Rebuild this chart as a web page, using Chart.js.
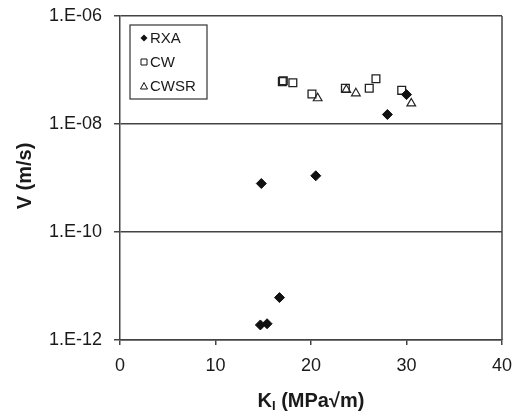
<!DOCTYPE html>
<html>
<head>
<meta charset="utf-8">
<script src="https://cdn.jsdelivr.net/npm/chart.js@4.4.1/dist/chart.umd.min.js"></script>
<style>
  html, body { margin: 0; padding: 0; background: #fff; }
  #wrap { width: 519px; height: 416px; }
</style>
</head>
<body>
<div id="wrap"><canvas id="crackChart" width="519" height="416"></canvas></div>
<script>
// K_I (MPa sqrt m) and crack velocity V (m/s)
const rxaK = [14.7, 15.4, 16.7, 14.8, 20.5, 28.0, 30.0];
const rxaV = [1.9e-12, 2.0e-12, 6.1e-12, 7.9e-10, 1.1e-9, 1.5e-8, 3.5e-8];

const cwK = [17.0, 17.1, 18.1, 20.1, 23.6, 26.1, 26.8, 29.5];
const cwV = [6.1e-8, 6.3e-8, 5.8e-8, 3.6e-8, 4.6e-8, 4.6e-8, 6.9e-8, 4.2e-8];

const cwsrK = [20.7, 23.7, 24.7, 30.5];
const cwsrV = [3.0e-8, 4.3e-8, 3.7e-8, 2.4e-8];

const xTicks = [0, 10, 20, 30, 40];
const yTicks = [1e-12, 1e-10, 1e-8, 1e-6];
const yTickLabels = ["1.E-12", "1.E-10", "1.E-08", "1.E-06"];

const lineColor = "#444444";
const textColor = "#1a1a1a";

function toPoints(xs, ys) {
    return xs.map((x, i) => ({ x: x, y: ys[i] }));
}

// box around the plot, axis titles and the legend
const decorations = {
    id: "decorations",
    afterDraw(chart) {
        const ctx = chart.ctx;
        const area = chart.chartArea;
        ctx.save();

        // right edge of the plot box
        ctx.strokeStyle = lineColor;
        ctx.lineWidth = 1.5;
        ctx.beginPath();
        ctx.moveTo(area.right, area.top);
        ctx.lineTo(area.right, area.bottom);
        ctx.stroke();

        // y title
        ctx.fillStyle = textColor;
        ctx.font = "bold 20px 'Liberation Sans', Arial, sans-serif";
        ctx.textAlign = "center";
        ctx.textBaseline = "middle";
        ctx.translate(25, 176);
        ctx.rotate(-Math.PI / 2);
        ctx.fillText("V (m/s)", 0, 0);
        ctx.setTransform(1, 0, 0, 1, 0, 0);

        // x title with subscript I
        const main = "K";
        const sub = "I";
        const rest = " (MPa\u221Am)";
        ctx.textBaseline = "alphabetic";
        ctx.textAlign = "left";
        ctx.font = "bold 20px 'Liberation Sans', Arial, sans-serif";
        const wMain = ctx.measureText(main).width;
        const wRest = ctx.measureText(rest).width;
        ctx.font = "bold 13px 'Liberation Sans', Arial, sans-serif";
        const wSub = ctx.measureText(sub).width;
        let x = (area.left + area.right) / 2 - (wMain + wSub + wRest) / 2;
        const base = 407;
        ctx.font = "bold 20px 'Liberation Sans', Arial, sans-serif";
        ctx.fillText(main, x, base);
        x += wMain;
        ctx.font = "bold 13px 'Liberation Sans', Arial, sans-serif";
        ctx.fillText(sub, x, base + 3);
        x += wSub;
        ctx.font = "bold 20px 'Liberation Sans', Arial, sans-serif";
        ctx.fillText(rest, x, base);

        // legend box
        const lx = 130, ly = 25, lw = 77, lh = 74;
        ctx.fillStyle = "#ffffff";
        ctx.fillRect(lx, ly, lw, lh);
        ctx.strokeStyle = "#333333";
        ctx.lineWidth = 1.2;
        ctx.strokeRect(lx, ly, lw, lh);

        ctx.font = "15px 'Liberation Sans', Arial, sans-serif";
        ctx.textBaseline = "middle";
        const rows = [38, 62, 86];
        chart.data.datasets.forEach((ds, i) => {
            const cy = rows[i];
            const cx = 144;
            ctx.beginPath();
            ctx.lineWidth = 1;
            ctx.strokeStyle = "#111111";
            if (ds.pointStyle === "rectRot") {
                ctx.moveTo(cx, cy - 3.5);
                ctx.lineTo(cx + 3.5, cy);
                ctx.lineTo(cx, cy + 3.5);
                ctx.lineTo(cx - 3.5, cy);
                ctx.closePath();
                ctx.fillStyle = "#111111";
                ctx.fill();
            } else if (ds.pointStyle === "rect") {
                ctx.rect(cx - 3, cy - 3, 6, 6);
                ctx.stroke();
            } else {
                ctx.moveTo(cx, cy - 3.5);
                ctx.lineTo(cx + 3.5, cy + 3);
                ctx.lineTo(cx - 3.5, cy + 3);
                ctx.closePath();
                ctx.stroke();
            }
            ctx.fillStyle = textColor;
            ctx.textAlign = "left";
            ctx.fillText(ds.label, 150, cy + 1);
        });

        ctx.restore();
    }
};

const ctx = document.getElementById("crackChart").getContext("2d");
const chart = new Chart(ctx, {
    type: "scatter",
    data: {
        datasets: [
            {
                label: "RXA",
                data: toPoints(rxaK, rxaV),
                pointStyle: "rectRot",
                pointRadius: 5,
                backgroundColor: "#111111",
                borderColor: "#111111",
                borderWidth: 1
            },
            {
                label: "CW",
                data: toPoints(cwK, cwV),
                pointStyle: "rect",
                pointRadius: 5.5,
                backgroundColor: "rgba(255,255,255,0)",
                borderColor: "#222222",
                borderWidth: 1.3
            },
            {
                label: "CWSR",
                data: toPoints(cwsrK, cwsrV),
                pointStyle: "triangle",
                pointRadius: 5,
                backgroundColor: "rgba(255,255,255,0)",
                borderColor: "#222222",
                borderWidth: 1.2
            }
        ]
    },
    options: {
        responsive: false,
        animation: false,
        layout: { padding: { left: 0, top: 16, right: 17, bottom: 0 } },
        plugins: {
            legend: { display: false },
            tooltip: { enabled: false }
        },
        scales: {
            x: {
                type: "linear",
                min: 0,
                max: 40,
                afterBuildTicks: scale => { scale.ticks = xTicks.map(v => ({ value: v })); },
                afterFit: scale => {
                    scale.height = 76;
                    scale.paddingLeft = 0;
                    scale.paddingRight = 0;
                },
                ticks: {
                    color: textColor,
                    font: { family: "'Liberation Sans', Arial, sans-serif", size: 18 },
                    padding: 10,
                    maxRotation: 0
                },
                grid: { drawOnChartArea: false, drawTicks: true, tickLength: 5, color: lineColor, lineWidth: 1.5 },
                border: { color: lineColor, width: 1.5 }
            },
            y: {
                type: "logarithmic",
                min: 1e-12,
                max: 1e-6,
                afterBuildTicks: scale => { scale.ticks = yTicks.map(v => ({ value: v })); },
                afterFit: scale => {
                    scale.width = 120;
                    scale.paddingTop = 0;
                    scale.paddingBottom = 0;
                },
                ticks: {
                    color: textColor,
                    font: { family: "'Liberation Sans', Arial, sans-serif", size: 18 },
                    padding: 12,
                    callback: (value, index) => yTickLabels[index]
                },
                grid: { drawOnChartArea: true, drawTicks: true, tickLength: 6, color: lineColor, lineWidth: 1.5 },
                border: { color: lineColor, width: 1.5 }
            }
        }
    },
    plugins: [decorations]
});
</script>
</body>
</html>
